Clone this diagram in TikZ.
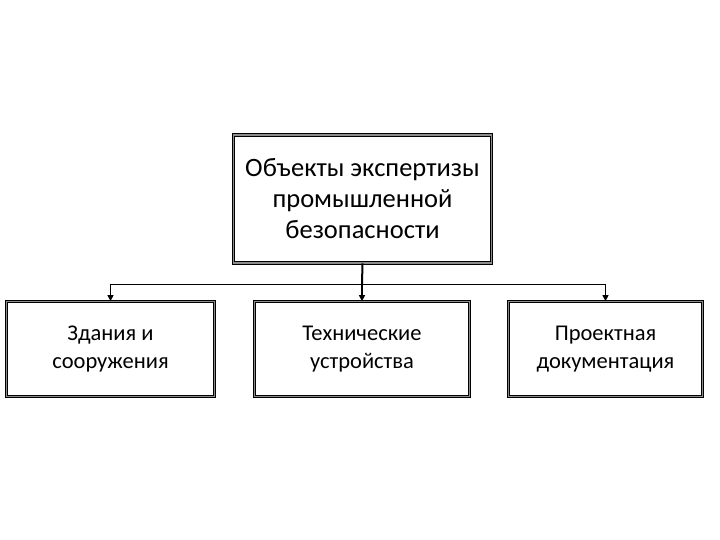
\documentclass[tikz,border=0pt]{standalone}
\usepackage{fontspec}
\setmainfont{Carlito}
\usetikzlibrary{arrows.meta}
\begin{document}
\begin{tikzpicture}[x=1pt,y=-1pt,
  box/.style={draw=black, line width=0.7pt, double=black!45, double distance=1.8pt, fill=white, align=center, inner sep=0pt},
  conn/.style={draw=black, line width=0.8pt},
  arr/.style={conn, -{Triangle[length=6pt,width=6pt]}}]
\useasboundingbox (0,0) rectangle (720,540);
\node[box, minimum width=258pt, minimum height=128pt, font=\fontsize{26.5}{31}\selectfont] (top) at (362.5,199)
  {Объекты экспертизы\\промышленной\\безопасности};
\node[box, minimum width=208pt, minimum height=95pt, font=\fontsize{22.5}{28.5}\selectfont] (l) at (110.5,349)
  {Здания и\\сооружения};
\node[box, minimum width=215pt, minimum height=95pt, font=\fontsize{22.5}{28.5}\selectfont] (m) at (362,349)
  {Технические\\устройства};
\node[box, minimum width=194pt, minimum height=95pt, font=\fontsize{22.5}{28.5}\selectfont] (r) at (605.5,349)
  {Проектная\\документация};
\coordinate (j) at (362,284);
\draw[conn, line width=2pt] (top.south) -- (j);
\draw[conn] (l.north |- j) -- (r.north |- j);
\draw[arr] (l.north |- j) -- (l.north);
\draw[arr, line width=2pt] (j) -- (m.north);
\draw[arr] (r.north |- j) -- (r.north);
\end{tikzpicture}
\end{document}
